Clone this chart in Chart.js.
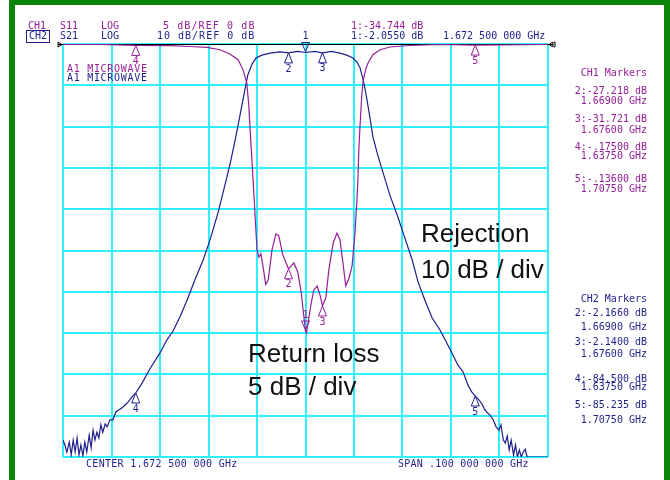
<!DOCTYPE html>
<html>
<head>
<meta charset="utf-8">
<script src="https://cdn.jsdelivr.net/npm/chart.js@4.4.0/dist/chart.umd.min.js"></script>
<style>
  html, body { margin: 0; padding: 0; background: #fff; }
  #wrap { position: relative; width: 670px; height: 480px; overflow: hidden; }
  canvas { display: block; }
  .mono { position: absolute; font: 10px 'DejaVu Sans Mono', monospace; line-height: 10px; margin-top: -5px; white-space: pre; }
  .big { position: absolute; font: 26px 'Liberation Sans', Arial, sans-serif; line-height: 26px; margin-top: -22px; white-space: pre; color: #111; }
  .bar { position: absolute; background: #0a850a; }
</style>
</head>
<body>
<div id="wrap">
  <canvas id="vna" width="670" height="480"></canvas>
</div>
<script>
// sweep: center 1.6725 GHz, span 0.1 GHz
var xMin = 1.6225, xMax = 1.7225;
var xGrid = [1.6225, 1.6325, 1.6425, 1.6525, 1.6625, 1.6725, 1.6825, 1.6925, 1.7025, 1.7125, 1.7225];

// CH1  S11  5 dB/div, ref 0 dB
var s11Freq = [1.6225, 1.6301, 1.6375, 1.6446, 1.6487, 1.6522, 1.6549, 1.6569, 1.6586, 1.6596,
  1.6604, 1.6608, 1.6612, 1.6617, 1.6621, 1.6625, 1.6629, 1.6633, 1.6637, 1.6643,
  1.6648, 1.6656, 1.6664, 1.6670, 1.6678, 1.6690, 1.6701, 1.6709, 1.6716, 1.6722,
  1.6725, 1.6727, 1.6731, 1.6736, 1.6742, 1.6749, 1.6755, 1.6760, 1.6767, 1.6773,
  1.6782, 1.6790, 1.6796, 1.6802, 1.6808, 1.6815, 1.6821, 1.6827, 1.6831, 1.6833,
  1.6835, 1.6837, 1.6841, 1.6844, 1.6850, 1.6854, 1.6864, 1.6879, 1.6899, 1.6940,
  1.7002, 1.7075, 1.7225];
var s11Db = [-0.05, -0.05, -0.175, -0.2, -0.3, -0.4, -0.7, -1.2, -1.9, -3.1,
  -4.7, -7.4, -11.6, -16.5, -20.7, -24.9, -25.8, -25.4, -26.8, -29.1,
  -28.6, -24.9, -23.0, -23.2, -25.5, -27.218, -26.5, -27.6, -30.0, -33.2,
  -34.744, -35.0, -33.5, -31.6, -29.8, -29.3, -30.4, -31.721, -30.7, -27.4,
  -24.1, -22.9, -23.7, -26.4, -29.3, -28.3, -26.9, -22.9, -18.9, -16.5,
  -12.8, -10.4, -6.2, -4.4, -2.9, -2.3, -1.3, -0.7, -0.36, -0.18,
  -0.06, -0.136, -0.06];

// CH2  S21  10 dB/div, ref 0 dB
var s21Freq = [1.6225, 1.6229, 1.6233, 1.6238, 1.6242, 1.6246, 1.6250, 1.6254, 1.6258, 1.6262,
  1.6266, 1.6270, 1.6274, 1.6279, 1.6283, 1.6287, 1.6291, 1.6295, 1.6299, 1.6303,
  1.6307, 1.6312, 1.6316, 1.6322, 1.6328, 1.6334, 1.6340, 1.6347, 1.6353, 1.6359,
  1.6367, 1.6375, 1.6388, 1.6404, 1.6425, 1.6439, 1.6452, 1.6466, 1.6481, 1.6497,
  1.6514, 1.6528, 1.6545, 1.6559, 1.6569, 1.6580, 1.6590, 1.6598, 1.6606, 1.6615,
  1.6623, 1.6635, 1.6652, 1.6672, 1.6690, 1.6709, 1.6725, 1.6744, 1.6760, 1.6779,
  1.6796, 1.6810, 1.6823, 1.6831, 1.6837, 1.6844, 1.6850, 1.6858, 1.6864, 1.6874,
  1.6885, 1.6899, 1.6914, 1.6930, 1.6945, 1.6957, 1.6971, 1.6986, 1.7002, 1.7015,
  1.7027, 1.7039, 1.7050, 1.7060, 1.7068, 1.7075, 1.7083, 1.7089, 1.7095, 1.7100,
  1.7105, 1.7112, 1.7118, 1.7124, 1.7128, 1.7133, 1.7137, 1.7141, 1.7145, 1.7149,
  1.7154, 1.7158, 1.7162, 1.7166, 1.7170, 1.7174, 1.7178, 1.7182, 1.7225];
var s21Db = [-95.9, -97.1, -98.8, -96.4, -99.5, -95.9, -98.8, -95.4, -99.5, -97.1,
  -99.7, -96.4, -98.8, -94.7, -97.8, -93.5, -95.9, -94.0, -95.4, -92.2,
  -94.0, -92.0, -92.7, -91.0, -91.0, -89.1, -88.6, -88.1, -87.4, -86.7,
  -85.5, -84.5, -82.1, -78.7, -74.8, -71.7, -69.5, -66.1, -62.0, -57.1,
  -52.3, -47.5, -40.7, -34.1, -29.3, -23.2, -17.2, -12.3, -7.5, -4.8,
  -3.4, -2.7, -2.2, -1.9, -2.166, -1.8, -2.055, -1.8, -2.14, -1.8,
  -2.2, -2.7, -3.4, -4.4, -5.6, -8.7, -12.3, -17.9, -22.5, -26.9,
  -31.2, -36.6, -41.4, -47.0, -52.3, -57.6, -62.0, -66.3, -69.2, -72.1,
  -74.8, -77.7, -79.4, -82.6, -84.3, -85.2, -86.2, -87.2, -88.6, -89.3,
  -89.8, -91.0, -92.7, -93.5, -92.2, -95.9, -96.6, -94.9, -98.3, -95.9,
  -99.5, -97.1, -100, -98.3, -100, -98.8, -98.1, -100, -100];

// markers 1..5 (1 is the active one)
var markerNames = ['1', '2', '3', '4', '5'];
var markerFreq = [1.6725, 1.669, 1.676, 1.6375, 1.7075];
var markerS11 = [-34.744, -27.218, -31.721, -0.175, -0.136];
var markerS21 = [-2.055, -2.166, -2.14, -84.5, -85.235];

var purple = '#961e96';
var navy = '#1e1e8c';
var cyan = '#2ef0ff';

function pairs(xs, ys) {
  return xs.map(function (x, i) { return { x: x, y: ys[i] }; });
}

function drawMarker(ctx, x, y, name, active) {
  ctx.beginPath();
  if (active) {
    ctx.moveTo(x, y - 1);
    ctx.lineTo(x - 4, y - 10);
    ctx.lineTo(x + 4, y - 10);
    ctx.closePath();
    ctx.stroke();
    ctx.fillText(name, x, y - 16);
  } else {
    ctx.moveTo(x, y);
    ctx.lineTo(x - 4, y + 10);
    ctx.lineTo(x + 4, y + 10);
    ctx.closePath();
    ctx.stroke();
    ctx.fillText(name, x, y + 16);
  }
}

var overlay = {
  id: 'overlay',
  beforeDatasetsDraw: function (chart) {
    var ctx = chart.ctx, a = chart.chartArea;
    ctx.save();
    // reference line (0 dB both channels)
    ctx.strokeStyle = '#000';
    ctx.lineWidth = 1.2;
    ctx.beginPath();
    ctx.moveTo(a.left - 5, a.top + 0.5);
    ctx.lineTo(a.right + 5, a.top + 0.5);
    ctx.stroke();
    ctx.lineWidth = 1;
    ctx.beginPath();
    ctx.moveTo(a.left - 5, a.top - 2);
    ctx.lineTo(a.left - 1, a.top + 0.5);
    ctx.lineTo(a.left - 5, a.top + 3);
    ctx.closePath();
    ctx.moveTo(a.right + 5, a.top - 2);
    ctx.lineTo(a.right + 1, a.top + 0.5);
    ctx.lineTo(a.right + 5, a.top + 3);
    ctx.closePath();
    ctx.moveTo(a.right + 6, a.top - 2);
    ctx.lineTo(a.right + 7, a.top - 2);
    ctx.lineTo(a.right + 7, a.top + 3);
    ctx.lineTo(a.right + 6, a.top + 3);
    ctx.stroke();
    ctx.restore();
  },
  afterDatasetsDraw: function (chart) {
    var ctx = chart.ctx;
    var sx = chart.scales.x, y11 = chart.scales.y11, y21 = chart.scales.y21;
    ctx.save();
    ctx.font = '10px "DejaVu Sans Mono"';
    ctx.textAlign = 'center';
    ctx.textBaseline = 'middle';
    ctx.lineWidth = 1;
    for (var i = 0; i < markerFreq.length; i++) {
      var px = sx.getPixelForValue(markerFreq[i]);
      ctx.strokeStyle = navy; ctx.fillStyle = navy;
      drawMarker(ctx, px, y21.getPixelForValue(markerS21[i]), markerNames[i], i === 0);
      ctx.strokeStyle = purple; ctx.fillStyle = purple;
      drawMarker(ctx, px, y11.getPixelForValue(markerS11[i]), markerNames[i], i === 0);
    }
    ctx.restore();
  }
};

new Chart(document.getElementById('vna'), {
  type: 'line',
  data: {
    datasets: [
      {
        label: 'S21',
        data: pairs(s21Freq, s21Db),
        yAxisID: 'y21',
        borderColor: navy,
        borderWidth: 1.2,
        pointRadius: 0,
        tension: 0,
        order: 2
      },
      {
        label: 'S11',
        data: pairs(s11Freq, s11Db),
        yAxisID: 'y11',
        borderColor: purple,
        borderWidth: 1.2,
        pointRadius: 0,
        tension: 0,
        order: 1
      }
    ]
  },
  options: {
    responsive: false,
    animation: false,
    layout: { padding: { left: 63, right: 122, top: 44, bottom: 23 } },
    plugins: { legend: { display: false }, tooltip: { enabled: false } },
    scales: {
      x: {
        type: 'linear',
        min: xMin,
        max: xMax,
        afterBuildTicks: function (scale) {
          scale.ticks = xGrid.map(function (v) { return { value: v }; });
        },
        ticks: { display: false },
        grid: { color: cyan, lineWidth: 2, drawTicks: false },
        border: { display: false }
      },
      y11: {
        position: 'left',
        min: -50,
        max: 0,
        ticks: { display: false, stepSize: 5 },
        grid: { color: cyan, lineWidth: 2, drawTicks: false },
        border: { display: false }
      },
      y21: {
        position: 'right',
        display: false,
        min: -100,
        max: 0
      }
    }
  },
  plugins: [overlay]
});

// analyser annotation text
var wrap = document.getElementById('wrap');

function addText(text, x, y, color, cls, spacing, right) {
  var el = document.createElement('div');
  el.className = cls;
  el.textContent = text;
  if (color) el.style.color = color;
  el.style.top = y + 'px';
  if (right) el.style.right = (670 - x) + 'px';
  else el.style.left = x + 'px';
  if (spacing) el.style.letterSpacing = spacing + 'px';
  wrap.appendChild(el);
}

function addBar(l, t, w, h, style) {
  var el = document.createElement('div');
  el.className = 'bar';
  el.style.left = l + 'px'; el.style.top = t + 'px';
  el.style.width = w + 'px'; el.style.height = h + 'px';
  if (style) el.setAttribute('style', el.getAttribute('style') + style);
  wrap.appendChild(el);
}

// green frame
addBar(9, 0, 661, 5);
addBar(9, 0, 6, 480);
addBar(664, 0, 6, 480);

// CH2 box
addBar(26, 30, 22, 11, 'background:none;border:1px solid ' + navy + ';');

addText('CH1', 28, 26, purple, 'mono');
addText('S11', 60, 26, purple, 'mono');
addText('LOG', 101, 26, purple, 'mono');
addText('5 dB/REF 0 dB', 163, 26, purple, 'mono', 1.1);
addText('1:-34.744 dB', 351, 26, purple, 'mono');

addText('CH2', 29, 36, navy, 'mono');
addText('S21', 60, 36, navy, 'mono');
addText('LOG', 101, 36, navy, 'mono');
addText('10 dB/REF 0 dB', 157, 36, navy, 'mono', 1);
addText('1:-2.0550 dB', 351, 36, navy, 'mono');
addText('1.672 500 000 GHz', 443, 36, navy, 'mono');

addText('A1 MICROWAVE', 67, 69, purple, 'mono', 0.7);
addText('A1 MICROWAVE', 67, 78, navy, 'mono', 0.7);

var ch1Panel = [['CH1 Markers', 73], ['2:-27.218 dB', 91], ['1.66900 GHz', 101],
  ['3:-31.721 dB', 119], ['1.67600 GHz', 130], ['4:-.17500 dB', 147], ['1.63750 GHz', 156],
  ['5:-.13600 dB', 179], ['1.70750 GHz', 189]];
var ch2Panel = [['CH2 Markers', 299], ['2:-2.1660 dB', 313], ['1.66900 GHz', 327],
  ['3:-2.1400 dB', 342], ['1.67600 GHz', 354], ['4:-84.500 dB', 379], ['1.63750 GHz', 387],
  ['5:-85.235 dB', 405], ['1.70750 GHz', 420]];
ch1Panel.forEach(function (r) { addText(r[0], 647, r[1], purple, 'mono', 0, true); });
ch2Panel.forEach(function (r) { addText(r[0], 647, r[1], navy, 'mono', 0, true); });

addText('CENTER 1.672 500 000 GHz', 86, 464, navy, 'mono', 0.3);
addText('SPAN .100 000 000 GHz', 398, 464, navy, 'mono', 0.2);

addText('Rejection', 421, 242, null, 'big');
addText('10 dB / div', 421, 278, null, 'big');
addText('Return loss', 248, 362, null, 'big');
addText('5 dB / div', 248, 395, null, 'big');
</script>
</body>
</html>
